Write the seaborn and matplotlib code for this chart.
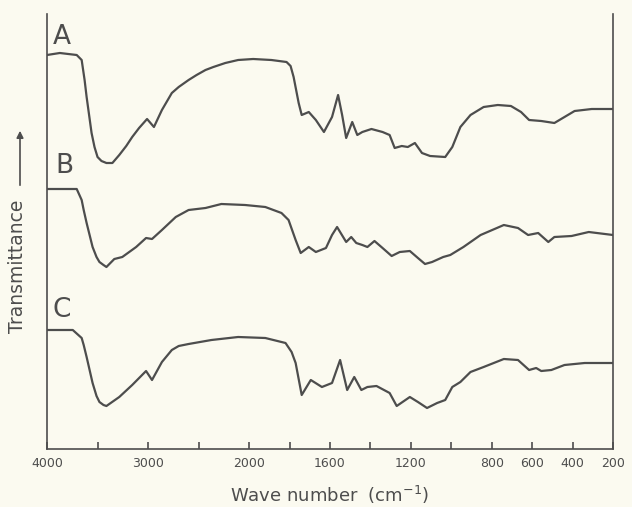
import numpy as np
import pandas as pd
import matplotlib
matplotlib.use("Agg")
import matplotlib.pyplot as plt
import seaborn as sns

# IR spectra (wavenumber in cm-1, transmittance in arbitrary offset units)
wn_a = [4000, 3873, 3706, 3657, 3628, 3608, 3559, 3530, 3500, 3461, 3412, 3353, 3285, 3216,
        3157, 3089, 3010, 2942, 2863, 2765, 2697, 2599, 2520, 2432, 2354, 2236, 2109, 1980,
        1890, 1815, 1795, 1780, 1755, 1740, 1705, 1670, 1630, 1590, 1560,
        1540, 1520, 1490, 1465, 1440, 1395, 1340, 1305, 1280, 1245, 1215, 1180, 1145, 1105,
        1030, 995, 955, 905, 840, 770, 705, 655, 615, 555, 490, 440, 390, 305, 200]
t_a = [394, 396, 394, 389, 369, 352, 316, 302, 292, 288, 286, 286, 294, 303,
       312, 321, 330, 322, 339, 356, 362, 369, 374, 379, 382, 386, 389, 390,
       389, 387, 383, 372, 346, 334, 337, 329, 317, 332, 354,
       334, 311, 327, 314, 317, 320, 317, 314, 301, 303, 302, 306, 296, 293,
       292, 302, 322, 334, 342, 344, 343, 337, 329, 328, 326, 332, 338, 340, 340]

wn_b = [4000, 3706, 3657, 3637, 3608, 3549, 3510, 3481, 3441, 3412, 3334, 3255, 3118, 3020,
        2961, 2863, 2726, 2599, 2432, 2275, 2040, 1920, 1840, 1805, 1770, 1745, 1705, 1670,
        1620, 1590, 1565, 1520, 1495, 1470, 1440, 1415, 1380, 1340, 1295, 1255, 1205, 1165,
        1130, 1095, 1040, 1005, 940, 855, 740, 670, 620, 570, 520, 490, 405, 320, 200]
t_b = [260, 260, 249, 239, 226, 202, 192, 187, 184, 182, 190, 192, 202, 211,
       210, 219, 232, 239, 241, 245, 244, 242, 236, 229, 209, 196, 202, 197,
       201, 214, 222, 207, 212, 206, 204, 202, 208, 201, 193, 197, 198, 191,
       185, 187, 192, 194, 202, 214, 224, 221, 214, 216, 207, 212, 213, 217, 214]

wn_c = [4000, 3745, 3657, 3637, 3608, 3549, 3510, 3481, 3441, 3412, 3285, 3157, 3020, 2961,
        2863, 2765, 2697, 2599, 2373, 2109, 1920, 1820, 1790, 1770, 1740, 1695, 1640, 1590,
        1550, 1515, 1480, 1445, 1415, 1370, 1305, 1270, 1205, 1165, 1120, 1070, 1030, 995,
        955, 905, 840, 740, 670, 615, 580, 555, 505, 440, 340, 200]
t_c = [119, 119, 111, 104, 92, 66, 53, 47, 44, 43, 52, 64, 78, 69,
       87, 99, 103, 105, 109, 112, 111, 106, 97, 86, 54, 69, 62, 66,
       89, 59, 72, 59, 62, 63, 56, 43, 52, 47, 41, 46, 49, 62,
       67, 77, 82, 90, 89, 79, 81, 78, 79, 84, 86, 86]

samples = ["A", "B", "C"]
label_ticks = [4000, 3000, 2000, 1600, 1200, 800, 600, 400, 200]
minor_ticks = [3500, 2500, 1800, 1400, 1000]

df = pd.concat([
    pd.DataFrame({"wavenumber": wn_a, "T": t_a, "sample": "A"}),
    pd.DataFrame({"wavenumber": wn_b, "T": t_b, "sample": "B"}),
    pd.DataFrame({"wavenumber": wn_c, "T": t_c, "sample": "C"}),
])

bg = "#fbfaf0"
ink = "#4d4d4d"

sns.set_style("white")
plt.rcParams["font.family"] = ["DejaVu Sans"]

fig = plt.figure(figsize=(6.32, 5.07), dpi=100, facecolor=bg)
ax = fig.add_axes([47 / 632, 58 / 507, 566 / 632, 435 / 507])
ax.set_facecolor(bg)

sns.lineplot(data=df, x="wavenumber", y="T", hue="sample", units="sample",
             estimator=None, sort=False, palette=[ink] * 3, linewidth=1.6,
             legend=False, ax=ax, solid_joinstyle="round", solid_capstyle="round")


# grating change at 2000 cm-1: scale doubles below it
def fwd(x):
    x = np.asarray(x, dtype=float)
    return np.where(x <= 2000, 2 * x, x + 2000)


def inv(u):
    u = np.asarray(u, dtype=float)
    return np.where(u <= 4000, u / 2, u - 2000)


ax.set_xscale("function", functions=(fwd, inv))
ax.set_xlim(4000, 200)
ax.set_ylim(0, 435)

ax.set_xticks(label_ticks)
ax.set_xticklabels([str(t) for t in label_ticks])
ax.set_xticks(minor_ticks, minor=True)
ax.set_yticks([])
ax.tick_params(axis="x", which="both", direction="in", length=5, width=1.2,
               color=ink, labelsize=9, labelcolor=ink, pad=6, bottom=True)
ax.set_xlabel("Wave number  (cm$^{-1}$)", fontsize=13, color=ink, labelpad=10)
ax.set_ylabel("")

for side in ["left", "right", "bottom"]:
    ax.spines[side].set_color(ink)
    ax.spines[side].set_linewidth(1.2)
ax.spines["top"].set_visible(False)

for name, (px, py) in zip(samples, [(62, 37), (64, 166), (62, 310)]):
    fig.text(px / 632, 1 - py / 507, name, fontsize=19, color=ink,
             ha="center", va="center")

fig.text(18 / 632, 1 - 266 / 507, "Transmittance", rotation=90, fontsize=13.5,
         color=ink, ha="center", va="center")
fig.patches.append(matplotlib.patches.FancyArrowPatch(
    (20 / 632, 1 - 188 / 507), (20 / 632, 1 - 128 / 507),
    transform=fig.transFigure, arrowstyle="-|>", mutation_scale=10,
    color=ink, linewidth=1.2))

fig.savefig("out.png", dpi=100, facecolor=bg)
